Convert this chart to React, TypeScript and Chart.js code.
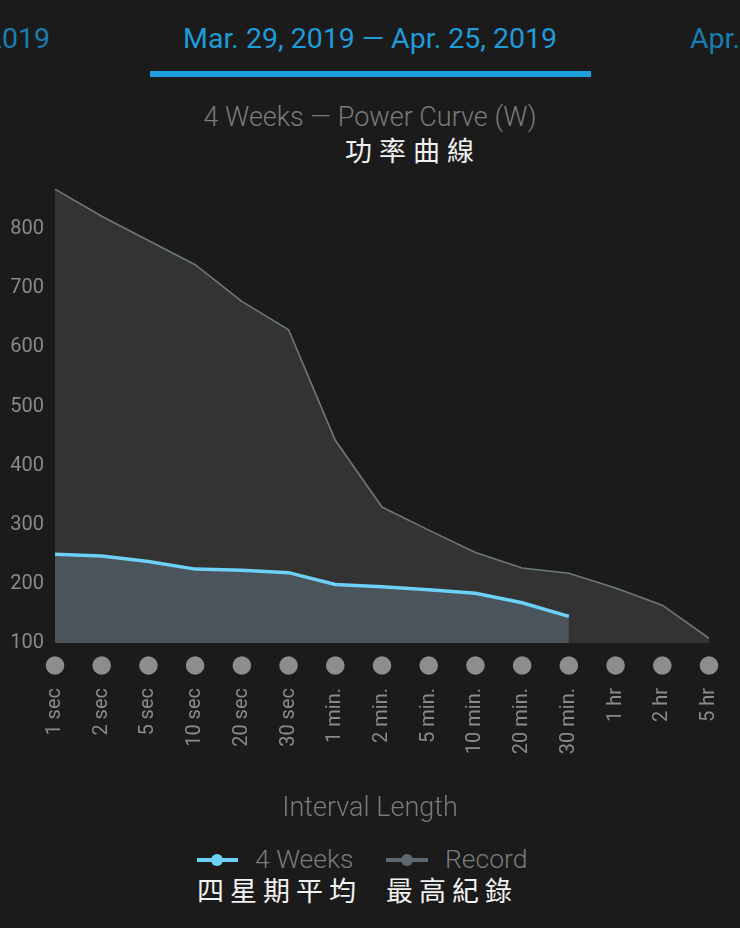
import React, { useEffect, useRef } from 'react'
import { Chart, registerables, type ChartConfiguration, type Plugin } from 'chart.js'

Chart.register(...registerables)

const intervals = ['1 sec', '2 sec', '5 sec', '10 sec', '20 sec', '30 sec', '1 min.', '2 min.', '5 min.', '10 min.', '20 min.', '30 min.', '1 hr', '2 hr', '5 hr']
const fourWeeks = [250, 247, 238, 225, 223, 219, 199, 195, 190, 184, 168, 145, null, null, null]
const record = [868, 822, 781, 740, 678, 630, 443, 330, 291, 253, 227, 218, 193, 164, 108]
const yTicks = [100, 200, 300, 400, 500, 600, 700, 800]
const yMin = 100
const yMax = 880

const FONT = 'Roboto, sans-serif'
const CJK = '"Noto Sans CJK TC", "Noto Sans CJK SC", sans-serif'

// grey dots under each interval on the x axis
const intervalDots: Plugin = {
  id: 'intervalDots',
  afterDraw(chart) {
    const { ctx, chartArea, scales } = chart
    const x = scales.x
    ctx.save()
    ctx.fillStyle = '#8d8d8d'
    intervals.forEach((_, i) => {
      ctx.beginPath()
      ctx.arc(x.getPixelForValue(i), chartArea.bottom + 22.5, 9.3, 0, Math.PI * 2)
      ctx.fill()
    })
    ctx.restore()
  },
}

function PowerCurve() {
  const canvasRef = useRef<HTMLCanvasElement>(null)
  const chartRef = useRef<Chart | null>(null)

  useEffect(() => {
    if (!canvasRef.current) return
    chartRef.current?.destroy()

    const cfg: ChartConfiguration = {
      type: 'line',
      data: {
        labels: intervals,
        datasets: [
          {
            label: '4 Weeks',
            data: fourWeeks,
            borderColor: '#6cd0f7',
            backgroundColor: '#4b535b',
            fill: 'start',
            borderWidth: 3.5,
            pointRadius: 0,
            tension: 0,
          },
          {
            label: 'Record',
            data: record,
            borderColor: '#6d7979',
            backgroundColor: '#333333',
            fill: 'start',
            borderWidth: 1.6,
            pointRadius: 0,
            tension: 0,
          },
        ],
      },
      options: {
        responsive: true,
        maintainAspectRatio: false,
        animation: false,
        layout: { padding: { left: 0, right: 31, top: 0, bottom: 0 } },
        plugins: {
          legend: { display: false },
          tooltip: { enabled: false },
        },
        scales: {
          x: {
            offset: false,
            grid: { display: false, drawTicks: false },
            border: { display: false },
            ticks: {
              color: '#8a8a8a',
              font: { family: FONT, size: 20 },
              minRotation: 90,
              maxRotation: 90,
              autoSkip: false,
              padding: 45,
            },
            afterFit: (s: any) => { s.height = 179; s.paddingLeft = 0; s.paddingRight = 0 },
          },
          y: {
            min: yMin,
            max: yMax,
            grid: { display: false, drawTicks: false },
            border: { display: false },
            ticks: {
              color: '#8a8a8a',
              font: { family: FONT, size: 20 },
              padding: 11,
            },
            afterBuildTicks: (s: any) => { s.ticks = yTicks.map(v => ({ value: v })) },
            afterFit: (s: any) => { s.width = 55; s.paddingTop = 0; s.paddingBottom = 0 },
          },
        },
      },
      plugins: [intervalDots],
    }
    chartRef.current = new Chart(canvasRef.current, cfg)
    return () => { chartRef.current?.destroy() }
  }, [])

  return <canvas ref={canvasRef} style={{ width: '100%', height: '100%' }} />
}

const abs = (o: React.CSSProperties): React.CSSProperties => ({ position: 'absolute', whiteSpace: 'nowrap', ...o })

export default function App() {
  useEffect(() => {
    document.body.style.margin = '0'
    document.body.style.background = '#1b1b1b'
  }, [])

  return (
    <div style={{ position: 'relative', width: 740, height: 928, overflow: 'hidden', background: '#1b1b1b', fontFamily: FONT }}>
      {/* date range header */}
      <div style={abs({ right: 690, top: 23, lineHeight: '32px', fontSize: 28.5, color: '#1a7db1' })}>Feb. 28, 2019 — Mar. 28, 2019</div>
      <div style={abs({ left: 0, width: 740, top: 23, lineHeight: '32px', fontSize: 28.5, color: '#1e9cd8', textAlign: 'center' })}>Mar. 29, 2019 — Apr. 25, 2019</div>
      <div style={abs({ left: 690, top: 23, lineHeight: '32px', fontSize: 28.5, color: '#1a7db1' })}>Apr. 26, 2019 — May 23, 2019</div>
      <div style={abs({ left: 150, top: 71, width: 441, height: 6, background: '#1ea0e0' })} />

      {/* chart title + annotation */}
      <div style={abs({ left: 0, width: 740, top: 102, lineHeight: '30px', fontSize: 27, fontWeight: 300, color: '#7a7a7a', textAlign: 'center' })}>4 Weeks — Power Curve (W)</div>
      <div style={abs({ left: 345, top: 134, lineHeight: '32px', fontSize: 27, letterSpacing: 7, color: '#f2f2f2', fontFamily: CJK })}>功率曲線</div>

      <div style={abs({ left: 0, top: 182, width: 740, height: 640 })}>
        <PowerCurve />
      </div>

      {/* x axis title */}
      <div style={abs({ left: 0, width: 740, top: 792, lineHeight: '30px', fontSize: 27, fontWeight: 300, color: '#7a7a7a', textAlign: 'center' })}>Interval Length</div>

      {/* legend */}
      <div style={abs({ left: 197, top: 858, width: 41, height: 4, background: '#6cd0f7' })} />
      <div style={abs({ left: 211, top: 854, width: 12, height: 12, borderRadius: 6, background: '#6cd0f7' })} />
      <div style={abs({ left: 255, top: 844, lineHeight: '30px', fontSize: 26.5, fontWeight: 300, color: '#7a7a7a' })}>4 Weeks</div>
      <div style={abs({ left: 386, top: 858, width: 42, height: 4, background: '#5d6970' })} />
      <div style={abs({ left: 401, top: 854, width: 12, height: 12, borderRadius: 6, background: '#5d6970' })} />
      <div style={abs({ left: 445, top: 844, lineHeight: '30px', fontSize: 26.5, fontWeight: 300, color: '#7a7a7a' })}>Record</div>

      <div style={abs({ left: 197, top: 874, lineHeight: '32px', fontSize: 27, letterSpacing: 6, color: '#f2f2f2', fontFamily: CJK })}>四星期平均</div>
      <div style={abs({ left: 386, top: 874, lineHeight: '32px', fontSize: 27, letterSpacing: 6, color: '#f2f2f2', fontFamily: CJK })}>最高紀錄</div>
    </div>
  )
}
